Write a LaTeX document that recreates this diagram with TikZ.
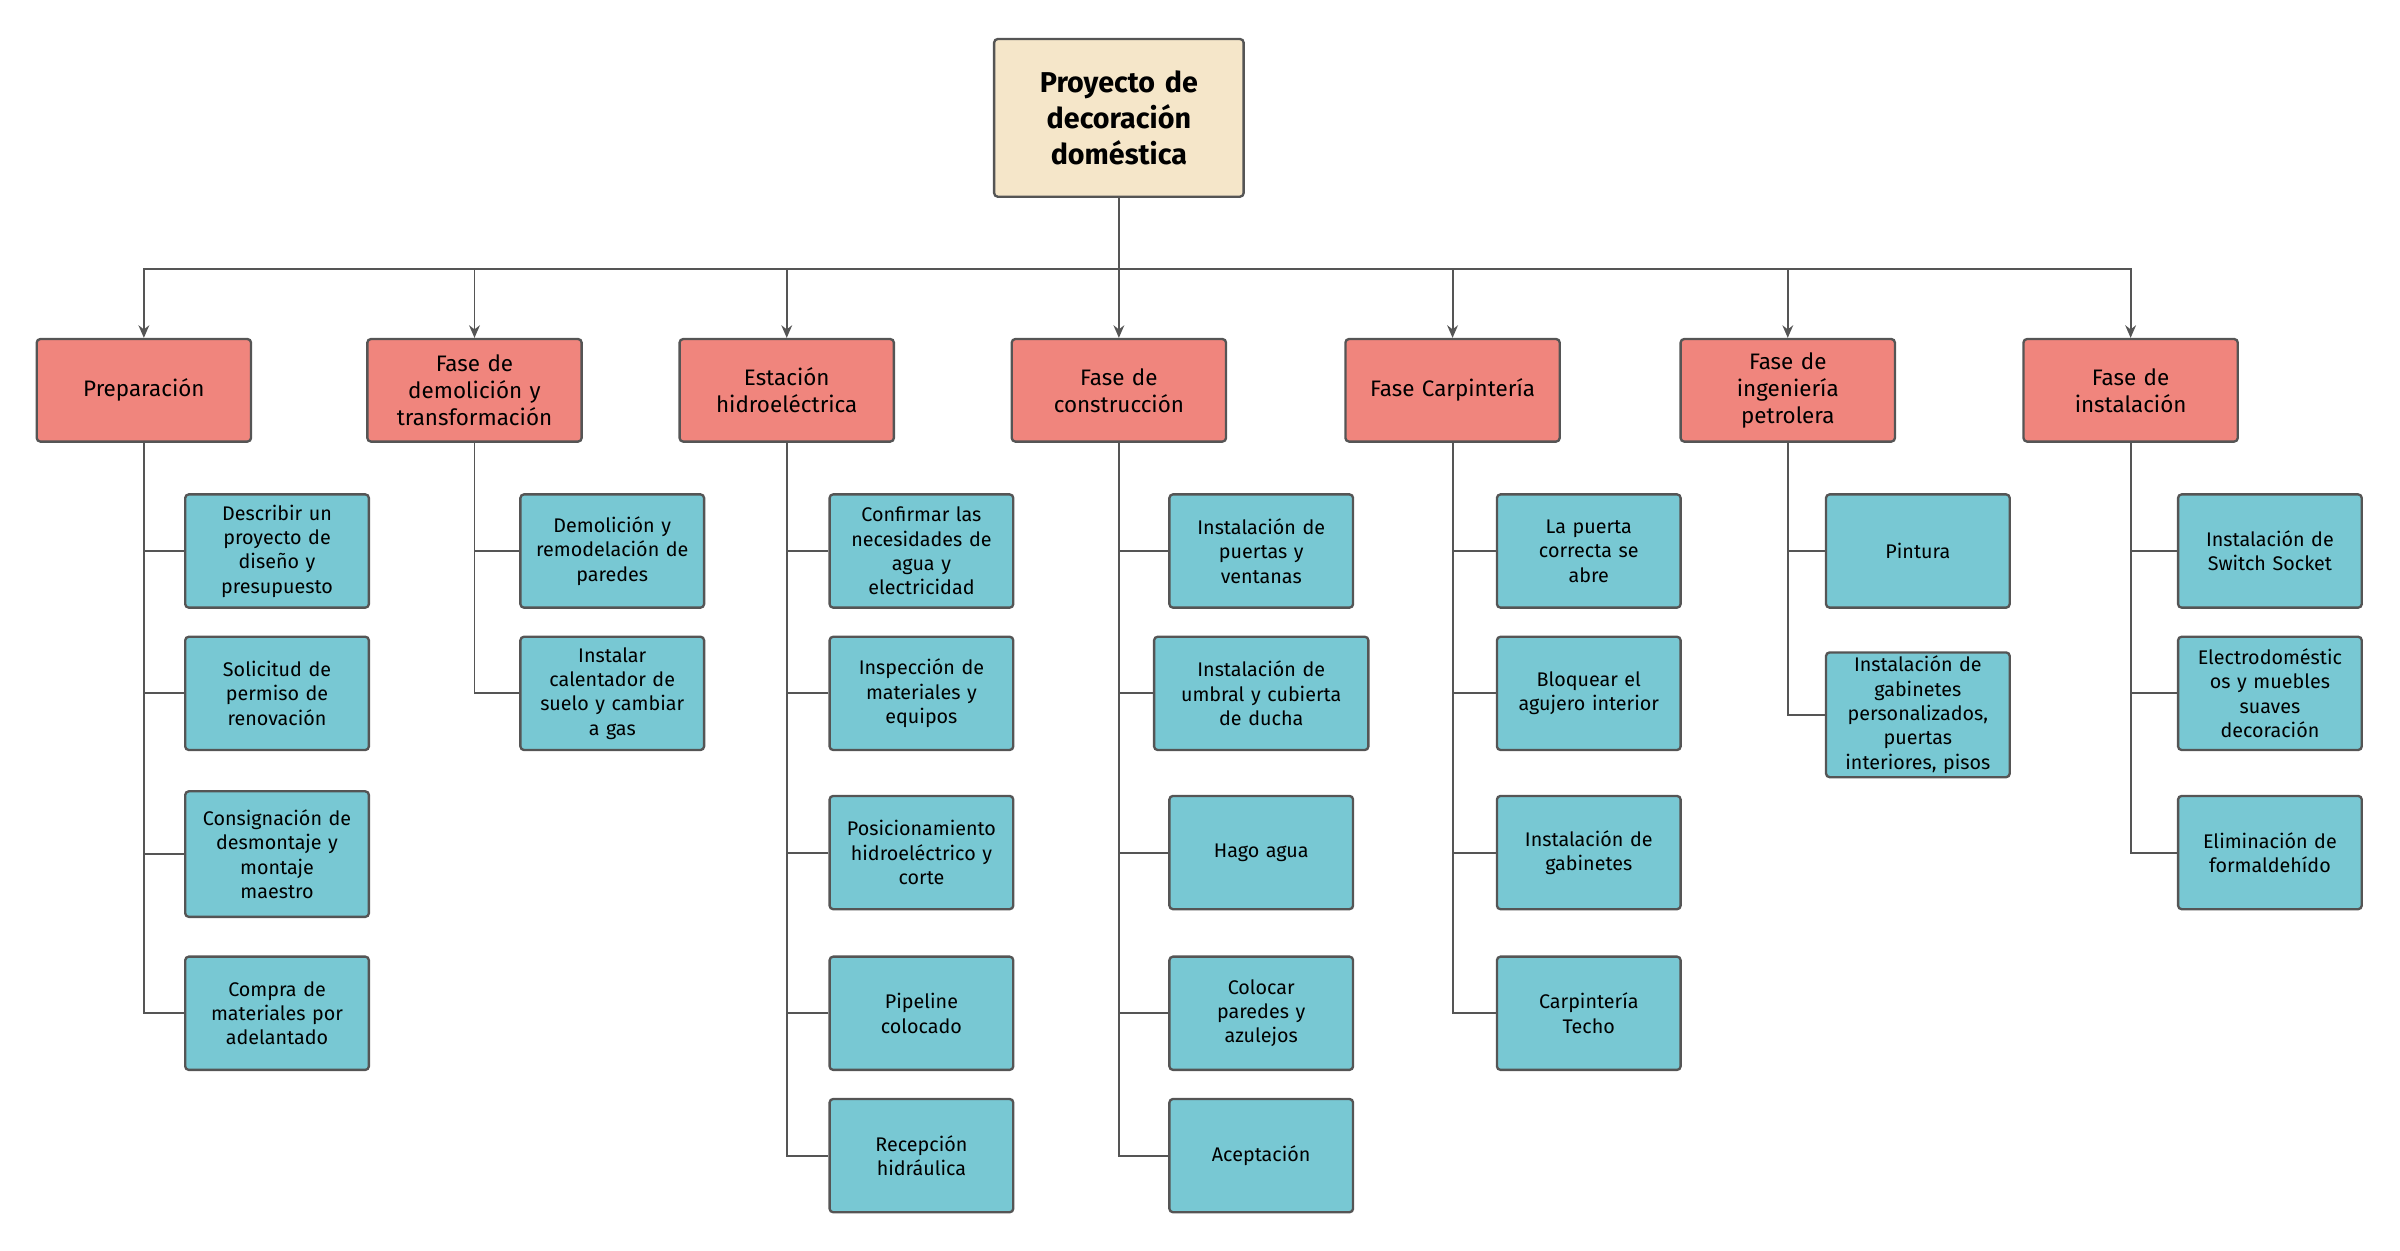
\documentclass[tikz,border=0pt]{standalone}
\usepackage{fontspec}
\setmainfont{Fira Sans}
\usetikzlibrary{positioning}
\usetikzlibrary{arrows.meta}

\definecolor{rootfill}{HTML}{F5E6C9}
\definecolor{phasefill}{HTML}{F0857D}
\definecolor{taskfill}{HTML}{78C8D3}
\definecolor{edgegray}{HTML}{555555}

\tikzset{
  box/.style={draw=edgegray, line width=1.3pt, rounded corners=2pt, align=center, inner sep=2pt},
  root/.style={box, fill=rootfill, minimum width=4.89cm, minimum height=3.09cm, text width=4.5cm, font=\fontsize{16}{20}\selectfont\bfseries},
  phase/.style={box, fill=phasefill, minimum width=4.2cm, minimum height=2.01cm, text width=4cm, font=\fontsize{12.5}{15}\selectfont},
  task/.style={box, fill=taskfill, minimum width=3.6cm, minimum height=2.22cm, text width=3.4cm, font=\fontsize{11}{13.6}\selectfont},
  link/.style={draw=edgegray, line width=1.1pt},
  arr/.style={link, -{Stealth[length=7pt,width=6pt]}}
}

\begin{document}
\begin{tikzpicture}[x=0.03cm, y=-0.03cm]
  \useasboundingbox (0,0) rectangle (1568,817);

  % root and bus
  \node[root] (root) at (731,77) {Proyecto de\\decoración\\doméstica};
  \coordinate (bus) at (731,176);

  % phases
  \node[phase] (p1) at (94,255) {Preparación};
  \node[phase] (p2) at (310,255) {Fase de\\demolición y\\transformación};
  \node[phase] (p3) at (514,255) {Estación\\hidroeléctrica};
  \node[phase] (p4) at (731,255) {Fase de\\construcción};
  \node[phase] (p5) at (949,255) {Fase Carpintería};
  \node[phase] (p6) at (1168,255) {Fase de\\ingeniería\\petrolera};
  \node[phase] (p7) at (1392,255) {Fase de\\instalación};

  \draw[link] (root.south) -- (bus);
  \foreach \p in {p1,p2,p3,p4,p5,p6,p7}
    \draw[arr] (bus) -| (\p.north);

  % Preparación
  \node[task] (a1) at (181,360) {Describir un\\proyecto de\\diseño y\\presupuesto};
  \node[task] (a2) at (181,453) {Solicitud de\\permiso de\\renovación};
  \node[task, minimum height=2.46cm] (a3) at (181,558) {Consignación de\\desmontaje y\\montaje\\maestro};
  \node[task] (a4) at (181,662) {Compra de\\materiales por\\adelantado};
  \foreach \t in {a1,a2,a3,a4}
    \draw[link] (p1.south) |- (\t.west);

  % demolición
  \node[task] (b1) at (400,360) {Demolición y\\remodelación de\\paredes};
  \node[task] (b2) at (400,453) {Instalar\\calentador de\\suelo y cambiar\\a gas};
  \foreach \t in {b1,b2}
    \draw[link] (p2.south) |- (\t.west);

  % hidroeléctrica
  \node[task] (c1) at (602,360) {Confirmar las\\necesidades de\\agua y\\electricidad};
  \node[task] (c2) at (602,453) {Inspección de\\materiales y\\equipos};
  \node[task] (c3) at (602,557) {Posicionamiento\\hidroeléctrico y\\corte};
  \node[task] (c4) at (602,662) {Pipeline\\colocado};
  \node[task] (c5) at (602,755) {Recepción\\hidráulica};
  \foreach \t in {c1,c2,c3,c4,c5}
    \draw[link] (p3.south) |- (\t.west);

  % construcción
  \node[task] (d1) at (824,360) {Instalación de\\puertas y\\ventanas};
  \node[task, minimum width=4.2cm, text width=4cm] (d2) at (824,453) {Instalación de\\umbral y cubierta\\de ducha};
  \node[task] (d3) at (824,557) {Hago agua};
  \node[task] (d4) at (824,662) {Colocar\\paredes y\\azulejos};
  \node[task] (d5) at (824,755) {Aceptación};
  \foreach \t in {d1,d2,d3,d4,d5}
    \draw[link] (p4.south) |- (\t.west);

  % carpintería
  \node[task] (e1) at (1038,360) {La puerta\\correcta se\\abre};
  \node[task] (e2) at (1038,453) {Bloquear el\\agujero interior};
  \node[task] (e3) at (1038,557) {Instalación de\\gabinetes};
  \node[task] (e4) at (1038,662) {Carpintería\\Techo};
  \foreach \t in {e1,e2,e3,e4}
    \draw[link] (p5.south) |- (\t.west);

  % ingeniería
  \node[task] (f1) at (1253,360) {Pintura};
  \node[task] (f2) at (1253,467) {Instalación de\\gabinetes\\personalizados,\\puertas\\interiores, pisos};
  \foreach \t in {f1,f2}
    \draw[link] (p6.south) |- (\t.west);

  % instalación
  \node[task] (g1) at (1483,360) {Instalación de\\Switch Socket};
  \node[task] (g2) at (1483,453) {Electrodoméstic\\os y muebles\\suaves\\decoración};
  \node[task] (g3) at (1483,557) {Eliminación de\\formaldehído};
  \foreach \t in {g1,g2,g3}
    \draw[link] (p7.south) |- (\t.west);
\end{tikzpicture}
\end{document}
